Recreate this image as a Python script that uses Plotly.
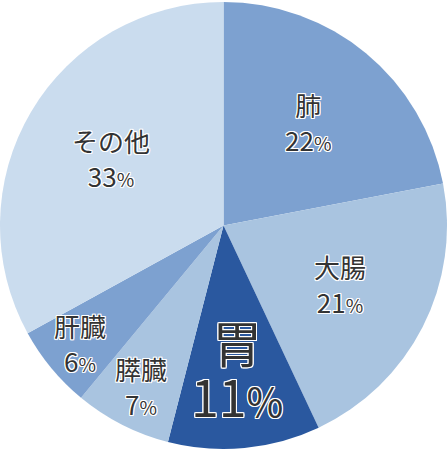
import math
import plotly.graph_objects as go

labels = ["肺", "大腸", "胃", "膵臓", "肝臓", "その他"]
values = [22, 21, 11, 7, 6, 33]

# styling (not data)
colors = ["#7DA1D0", "#A9C4E0", "#2A589F", "#A9C4E0", "#7DA1D0", "#CADCEE"]
label_sizes = [26, 26, 50, 26, 26, 26]
pct_sizes = [19, 19, 40, 19, 19, 19]
label_r = [0.595, 0.587, 0.649, 0.816, 0.836, 0.584]
line_gap = [35, 35, 54, 35, 35, 35]

W, H = 447, 453
MB = 2
R = min(W, H - MB) / 2
cx, cy = W / 2, (H - MB) / 2

fig = go.Figure(go.Pie(
    labels=labels,
    values=values,
    textinfo="none",
    sort=False,
    direction="clockwise",
    rotation=0,
    marker=dict(colors=colors, line=dict(width=0)),
    hoverinfo="none",
    showlegend=False,
))

outline = ", ".join(
    f"{dx}px {dy}px 0 #fff"
    for dx, dy in [(1, 0), (-1, 0), (0, 1), (0, -1), (1, 1), (-1, -1), (1, -1), (-1, 1)]
)

total = sum(values)
start = 90.0
annotations = []
for lab, val, ls, ps, rf, gap in zip(labels, values, label_sizes, pct_sizes, label_r, line_gap):
    span = 360.0 * val / total
    mid = math.radians(start - span / 2)
    start -= span
    px = cx + rf * R * math.cos(mid)
    py = cy - rf * R * math.sin(mid)
    base = gap / 1.3
    text = (
        f"<span style='font-size:{ls}px'>{lab}</span><br>"
        f"<span style='font-size:{ls}px'>{val}</span>"
        f"<span style='font-size:{ps}px'>%</span>"
    )
    annotations.append(dict(
        x=px / W, y=1 - py / H, xref="paper", yref="paper",
        xanchor="center", yanchor="middle", showarrow=False, align="center",
        text=text,
        font=dict(family="Noto Sans CJK JP", size=base, color="#333333", shadow=outline),
    ))

fig.update_layout(
    width=W, height=H,
    margin=dict(l=0, r=0, t=0, b=MB),
    paper_bgcolor="white",
    plot_bgcolor="white",
    annotations=annotations,
)

fig.write_html(
    "out.html",
    config={"displayModeBar": False},
    post_script="document.body.style.margin='0';",
)
